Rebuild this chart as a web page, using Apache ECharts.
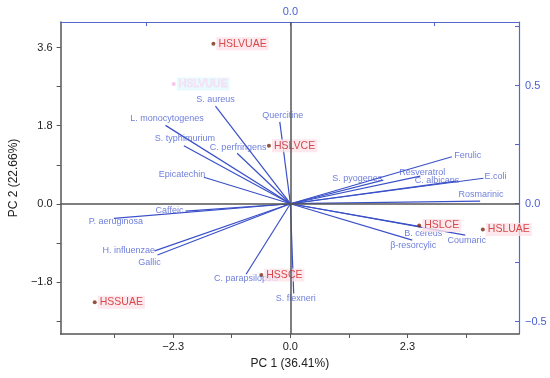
<!DOCTYPE html>
<html>
<head>
<meta charset="utf-8">
<script src="https://cdn.jsdelivr.net/npm/echarts@6/dist/echarts.min.js"></script>
<style>html,body{margin:0;padding:0;background:#fff;}#c{width:550px;height:378px;}</style>
</head>
<body>
<div id="c"></div>
<script>
// Loadings (secondary axes)
const loadingNames = ['S. aureus','L. monocytogenes','S. typhimurium','C. perfringens','Epicatechin','Quercitine',
  'Ferulic','Resveratrol','C. albicans','S. pyogenes','E.coli','Rosmarinic','B. cereus','Coumaric','β-resorcylic',
  'Caffeic','P. aeruginosa','H. influenzae','Gallic','C. parapsilopsis','S. flexneri'];
const loadingPC1 = [-0.318,-0.530,-0.452,-0.226,-0.367,-0.045,0.685,0.551,0.703,0.394,0.819,0.805,0.551,0.742,0.517,-0.445,-0.749,-0.576,-0.564,-0.188,0.014];
const loadingPC2 = [0.414,0.332,0.246,0.214,0.112,0.347,0.199,0.117,0.096,0.100,0.108,0.011,-0.097,-0.133,-0.154,-0.031,-0.062,-0.200,-0.217,-0.299,-0.380];

// Scores (primary axes)
const sampleNames = ['HSLVUAE','HSLVCE','HSSUAE','HSSCE','HSLCE','HSLUAE'];
const samplePC1 = [-1.51,-0.42,-3.84,-0.57,2.53,3.78];
const samplePC2 = [3.69,1.34,-2.27,-1.64,-0.50,-0.59];
const ghostName = ['HSLVUUE'];
const ghostPC1 = [-2.29];
const ghostPC2 = [2.76];

// Tick labels
const xTickLabels = [-2.3, 0, 2.3];
const xMinorTicks = [-3.45, -2.3, -1.15, 0, 1.15, 2.3, 3.45];
const yTickLabels = [3.6, 1.8, 0, -1.8];
const yMinorTicks = [3.6, 2.7, 1.8, 0.9, 0, -0.9, -1.8, -2.7];
const y2TickLabels = [0.5, 0, -0.5];
const y2Ticks = [0.75, 0.5, 0.25, 0, -0.25, -0.5];
const x2TickLabels = [0];
const x2Ticks = [-0.61, 0, 0.61];

// label layout (pixel offsets of label centre from vector end)
const labelOffsets = {
  'S. aureus':[0,-7],'L. monocytogenes':[1.5,-7],'S. typhimurium':[1,-7],'C. perfringens':[1,-6],
  'Epicatechin':[-22,-3],'Quercitine':[3,-6],'Ferulic':[16,-1],'Resveratrol':[2,-4],'C. albicans':[-19,-1],
  'S. pyogenes':[-26,-2],'E.coli':[12,-2],'Rosmarinic':[1,-7],'B. cereus':[3,7],'Coumaric':[1.5,5],
  'β-resorcylic':[1,5],'Caffeic':[-16,-1],'P. aeruginosa':[2,3.5],'H. influenzae':[-26,0],'Gallic':[-8,8],
  'C. parapsilopsis':[0,4],'S. flexneri':[2,5]
};

const fmt = v => (v < 0 ? '\u2212' : '') + Math.abs(v).toFixed(1);
const BLUE = '#3a50c8';
const BLUE_TXT = '#4a5ed2';
const DARK = '#555';
const FONT = 'Liberation Sans, Arial, sans-serif';

const chart = echarts.init(document.getElementById('c'), null, {renderer:'canvas'});
chart.setOption({
  animation:false,
  backgroundColor:'#fff',
  grid:{left:60,right:31,top:22,bottom:44,containLabel:false},
  xAxis:[{
    type:'value', position:'bottom', min:-4.51, max:4.49,
    name:'PC 1 (36.41%)', nameLocation:'middle', nameGap:24,
    nameTextStyle:{color:'#222',fontSize:12,fontFamily:FONT},
    splitLine:{show:false},
    axisLine:{show:true,onZero:false,lineStyle:{color:DARK,width:1.5}},
    axisTick:{show:true,length:4,customValues:xMinorTicks,lineStyle:{color:DARK}},
    axisLabel:{customValues:xTickLabels,formatter:fmt,color:'#222',fontSize:11,fontFamily:FONT,margin:7}
  },{
    type:'value', position:'top', min:-0.975, max:0.970,
    splitLine:{show:false},
    axisLine:{show:true,onZero:false,lineStyle:{color:'#5566cc',width:1.2}},
    axisTick:{show:true,inside:true,length:4,customValues:x2Ticks,lineStyle:{color:'#5566cc'}},
    axisLabel:{customValues:x2TickLabels,formatter:fmt,color:BLUE_TXT,fontSize:11,fontFamily:FONT,margin:5}
  }],
  yAxis:[{
    type:'value', position:'left', min:-3.0, max:4.19,
    name:'PC 2 (22.66%)', nameLocation:'middle', nameGap:40, nameRotate:90,
    nameTextStyle:{color:'#222',fontSize:12,fontFamily:FONT},
    splitLine:{show:false},
    axisLine:{show:true,onZero:false,lineStyle:{color:DARK,width:1.5}},
    axisTick:{show:true,length:4,customValues:yMinorTicks,lineStyle:{color:DARK}},
    axisLabel:{customValues:yTickLabels,formatter:fmt,color:'#222',fontSize:11,fontFamily:FONT,margin:8}
  },{
    type:'value', position:'right', min:-0.552, max:0.77,
    splitLine:{show:false},
    axisLine:{show:true,onZero:false,lineStyle:{color:'#5566cc',width:1.2}},
    axisTick:{show:true,inside:true,length:4,customValues:y2Ticks,lineStyle:{color:'#5566cc'}},
    axisLabel:{customValues:y2TickLabels,formatter:fmt,color:BLUE_TXT,fontSize:11,fontFamily:FONT,margin:6}
  }],
  series:[
    {
      type:'scatter', xAxisIndex:0, yAxisIndex:0, symbolSize:0, data:[],
      markLine:{silent:true,symbol:'none',label:{show:false},
        lineStyle:{color:DARK,width:1.5,type:'solid'},
        data:[{xAxis:0},{yAxis:0}]}
    },
    {
      type:'lines', coordinateSystem:'cartesian2d', xAxisIndex:1, yAxisIndex:1,
      lineStyle:{color:BLUE,width:1.2,opacity:1},
      data: loadingNames.map((n,i)=>({coords:[[0,0],[loadingPC1[i],loadingPC2[i]]]}))
    },
    {
      type:'scatter', xAxisIndex:1, yAxisIndex:1, symbolSize:1, itemStyle:{color:'rgba(0,0,0,0)'},
      data: loadingNames.map((n,i)=>({name:n,value:[loadingPC1[i],loadingPC2[i]],
        label:{offset:labelOffsets[n]||[0,0]}})),
      label:{show:true,position:'inside',formatter:p=>p.name,color:BLUE_TXT,fontSize:9,fontFamily:FONT}
    },
    {
      type:'scatter', xAxisIndex:0, yAxisIndex:0, symbolSize:4, itemStyle:{color:'#f4b8e8'},
      data: ghostName.map((n,i)=>({name:n,value:[ghostPC1[i],ghostPC2[i]]})),
      label:{show:true,position:'right',distance:1,formatter:p=>p.name,color:'#fbe6f8',fontSize:10.5,
        fontFamily:FONT,backgroundColor:'#e3f9fc',padding:[1,2],textBorderColor:'#f0c8f0',textBorderWidth:0.6}
    },
    {
      type:'scatter', xAxisIndex:0, yAxisIndex:0, symbolSize:4, itemStyle:{color:'#7a2812'},
      data: sampleNames.map((n,i)=>({name:n,value:[samplePC1[i],samplePC2[i]]})),
      label:{show:true,position:'right',distance:1,formatter:p=>p.name,color:'#cc2020',fontSize:10.5,
        fontFamily:FONT,backgroundColor:'#fde2ea',padding:[1,2]}
    }
  ]
});
</script>
</body>
</html>
